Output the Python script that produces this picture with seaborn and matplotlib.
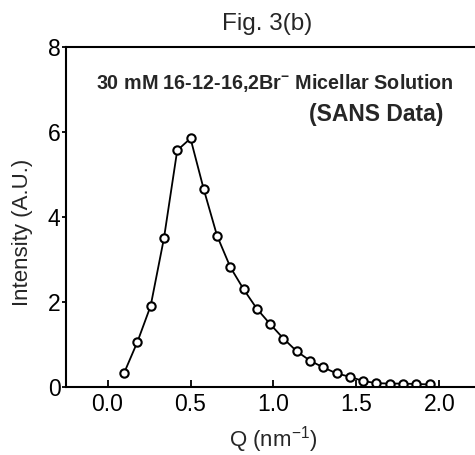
import matplotlib
matplotlib.use("Agg")
import matplotlib.pyplot as plt
import seaborn as sns
import pandas as pd

# SANS scattering profile of the gemini micellar solution
q_values = [0.10, 0.18, 0.26, 0.34, 0.42, 0.50, 0.58, 0.66, 0.74, 0.82, 0.90, 0.98,
            1.06, 1.14, 1.22, 1.30, 1.38, 1.46, 1.54, 1.62, 1.70, 1.78, 1.86, 1.94]
intensity = [0.33, 1.06, 1.91, 3.50, 5.57, 5.85, 4.65, 3.56, 2.82, 2.30, 1.84, 1.48,
             1.14, 0.84, 0.62, 0.46, 0.32, 0.24, 0.14, 0.09, 0.08, 0.08, 0.07, 0.06]
x_ticks = [0.0, 0.5, 1.0, 1.5, 2.0]
y_ticks = [0, 2, 4, 6, 8]

sns.set_theme(style="ticks")
plt.rcParams["font.family"] = ["Liberation Sans", "DejaVu Sans"]
plt.rcParams["mathtext.fontset"] = "custom"
plt.rcParams["mathtext.rm"] = "Liberation Sans"
plt.rcParams["mathtext.bf"] = "Liberation Sans:bold"
plt.rcParams["mathtext.default"] = "regular"

df = pd.DataFrame({"Q": q_values, "I": intensity})

fig = plt.figure(figsize=(4.75, 4.55), dpi=100)
ax = fig.add_axes([0.139, 0.1495, 0.891, 0.747])

sns.lineplot(data=df, x="Q", y="I", ax=ax, color="black", linewidth=1.3,
             marker="o", markersize=6, markerfacecolor="white",
             markeredgecolor="black", markeredgewidth=1.5)

ax.set_xlim(-0.25, 2.3)
ax.set_ylim(0, 8)
ax.set_xticks(x_ticks)
ax.set_xticklabels([f"{t:.1f}" for t in x_ticks])
ax.set_yticks(y_ticks)

for side in ["left", "bottom", "top", "right"]:
    ax.spines[side].set_visible(True)
    ax.spines[side].set_linewidth(1.5)
    ax.spines[side].set_color("black")

ax.tick_params(axis="x", direction="in", length=5, width=1.3, labelsize=16.5,
               pad=4, colors="black")
ax.tick_params(axis="y", direction="out", length=3, width=1.3, labelsize=16.5,
               pad=1, colors="black")

ax.set_xlabel("Q (nm$^{-1}$)", fontsize=16)
ax.xaxis.set_label_coords(0.489, -0.156)
ax.xaxis.label.set_va("center")
ax.set_ylabel("Intensity (A.U.)", fontsize=16)
ax.yaxis.set_label_coords(-0.104, 0.456)
ax.yaxis.label.set_va("center")
ax.yaxis.label.set_ha("center")

fig.text(267 / 475, 1 - 24 / 455, "Fig. 3(b)", fontsize=17.5,
         ha="center", va="center")

ax.text(1.009, 7.15, r"30 mM 16-12-16,2Br$^{-}$ Micellar Solution", fontsize=14.2,
        fontweight="bold", ha="center", va="center")
ax.text(1.617, 6.42, "(SANS Data)", fontsize=16.5, fontweight="bold",
        ha="center", va="center")

fig.savefig("out.png", dpi=100)
